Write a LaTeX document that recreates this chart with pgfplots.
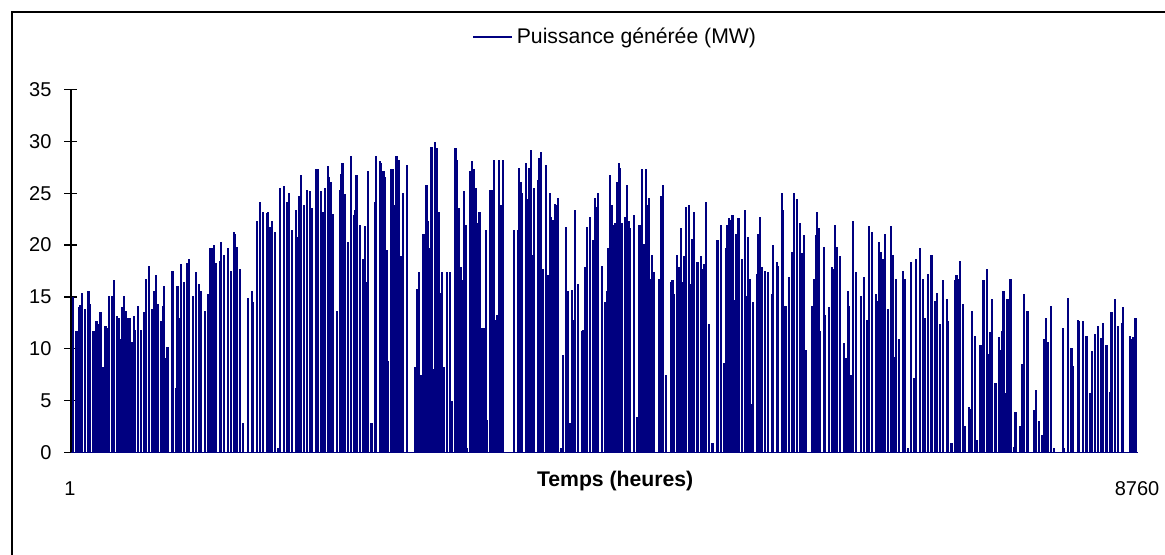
\documentclass[border=0pt]{standalone}
\usepackage{fontspec}
\setmainfont{Liberation Sans}
\usepackage{pgfplots}
\pgfplotsset{compat=1.18}
\usepackage{pgfplotstable}
\definecolor{navy}{RGB}{0,0,128}
\pgfplotstableread{
h v
19 15.0
46 11.7
63 14.0
77 14.2
90 15.4
118 13.8
145 15.6
159 14.3
186 11.7
210 12.7
224 12.4
243 13.5
260 8.2
284 12.2
298 12.0
314 15.1
339 15.1
353 16.6
380 13.2
394 13.0
410 10.9
424 14.0
437 15.1
454 13.6
467 13.0
481 13.0
506 10.7
519 13.2
530 11.8
549 14.1
574 11.8
601 13.5
615 16.7
642 18.0
670 13.8
683 15.6
700 17.1
713 14.3
738 12.7
754 14.1
768 16.1
782 9.1
793 10.2
834 17.5
861 6.2
875 16.1
888 13.0
905 18.2
932 16.4
957 18.3
973 18.7
1000 15.1
1028 17.4
1055 16.2
1066 15.6
1099 13.6
1126 15.3
1142 19.7
1162 19.7
1175 20.0
1194 18.3
1222 18.5
1235 20.3
1260 19.0
1293 19.7
1317 17.5
1336 21.3
1350 21.1
1361 19.8
1391 17.7
1416 2.8
1454 14.9
1484 15.6
1498 14.5
1525 22.3
1555 24.2
1580 23.2
1607 23.1
1621 23.2
1635 21.7
1654 22.3
1678 21.3
1703 0.4
1719 25.5
1747 25.7
1774 24.2
1790 25.0
1818 21.5
1845 23.4
1859 20.8
1872 24.7
1886 26.8
1911 23.9
1941 25.3
1962 25.2
1979 23.6
2012 27.3
2028 27.3
2050 25.2
2066 23.2
2083 25.5
2107 27.6
2118 26.6
2137 26.1
2154 23.0
2181 13.6
2206 25.3
2219 26.9
2230 27.9
2252 24.9
2274 20.3
2301 28.6
2323 22.9
2331 23.4
2345 26.8
2370 21.9
2397 18.7
2411 21.8
2427 16.4
2438 27.1
2468 2.8
2493 24.2
2506 28.6
2534 28.1
2545 27.9
2566 27.1
2580 26.6
2591 19.5
2605 8.8
2632 27.3
2646 27.3
2659 23.9
2673 28.6
2695 28.2
2706 18.9
2730 25.0
2758 27.7
2829 8.2
2843 15.8
2856 17.4
2878 7.5
2895 21.1
2919 25.8
2933 22.3
2947 19.7
2960 29.5
2974 8.1
2988 29.9
3001 29.4
3018 23.2
3034 15.4
3048 17.4
3061 8.2
3089 17.4
3113 17.4
3130 5.0
3157 29.4
3171 28.2
3187 23.6
3201 17.9
3214 16.6
3225 25.2
3239 21.9
3255 0.4
3277 27.1
3294 28.1
3307 27.3
3324 25.5
3337 22.1
3354 23.2
3362 20.3
3378 12.0
3392 12.0
3406 21.5
3419 3.1
3444 25.3
3460 25.3
3474 28.2
3488 12.8
3501 13.3
3515 28.2
3529 23.9
3545 28.2
3641 21.5
3668 21.5
3682 27.4
3695 26.1
3706 25.0
3734 27.9
3747 24.4
3761 27.4
3777 29.2
3791 19.0
3805 25.5
3832 26.3
3846 28.4
3859 29.0
3876 17.7
3903 27.7
3917 17.1
3930 25.0
3944 22.7
3958 22.4
3971 24.0
3985 23.9
3999 24.5
4026 0.4
4040 9.4
4067 21.7
4081 15.6
4097 2.8
4111 15.7
4122 12.8
4138 23.4
4165 16.2
4193 11.7
4206 11.8
4220 17.9
4234 21.7
4261 22.7
4288 20.5
4302 24.5
4316 23.7
4329 25.0
4359 18.0
4381 14.5
4401 15.6
4412 19.7
4425 26.8
4439 23.9
4453 21.9
4466 22.1
4483 26.1
4496 27.9
4510 27.4
4524 22.1
4548 22.7
4565 25.8
4578 22.3
4592 21.6
4619 22.9
4647 3.4
4663 21.9
4677 21.9
4690 27.3
4704 20.1
4718 27.3
4731 23.9
4745 24.5
4761 16.7
4772 19.0
4786 17.4
4830 16.7
4843 24.7
4857 25.8
4884 7.5
4925 16.4
4939 16.6
4953 15.3
4977 19.0
4991 17.9
5007 21.6
5018 16.4
5035 18.9
5048 23.7
5076 23.9
5089 16.2
5103 20.6
5117 23.2
5144 18.4
5171 18.9
5182 17.7
5199 18.2
5212 24.2
5240 12.4
5267 0.9
5308 20.5
5335 21.9
5363 8.6
5376 19.7
5390 21.9
5404 22.6
5417 22.4
5431 22.9
5447 14.7
5458 21.1
5475 22.6
5488 22.6
5508 18.7
5532 23.4
5549 15.1
5562 20.8
5576 16.7
5590 4.7
5603 14.5
5631 17.2
5644 21.1
5658 22.7
5672 17.9
5699 17.5
5726 17.4
5753 15.3
5767 20.0
5794 18.4
5808 18.0
5836 25.0
5849 23.4
5866 14.1
5893 16.9
5918 19.3
5934 25.0
5961 24.4
5986 22.1
6002 19.2
6016 21.0
6032 9.9
6084 14.1
6098 16.7
6114 21.0
6125 23.2
6139 21.6
6153 11.7
6180 19.8
6194 13.3
6221 14.0
6248 17.9
6259 17.7
6276 21.9
6292 19.8
6317 18.9
6344 10.6
6360 9.1
6377 15.6
6390 14.1
6404 7.5
6418 22.3
6442 17.4
6483 15.1
6511 16.9
6538 12.8
6554 21.8
6579 21.3
6606 15.3
6620 14.6
6634 20.3
6647 19.3
6664 18.7
6680 21.1
6705 13.8
6732 21.8
6746 19.0
6759 9.2
6776 16.7
6800 10.9
6830 17.5
6844 16.7
6871 0.4
6899 18.4
6923 7.2
6940 18.7
6967 19.7
6992 16.7
7008 13.0
7035 17.2
7065 19.0
7090 14.6
7107 15.4
7134 12.4
7161 16.6
7189 14.8
7202 12.7
7229 0.9
7257 16.6
7270 17.1
7284 16.7
7301 18.5
7325 14.3
7342 2.6
7369 4.4
7383 4.2
7396 13.6
7424 11.2
7437 1.2
7467 10.4
7492 16.6
7519 17.7
7536 9.5
7549 11.6
7563 14.8
7590 6.7
7618 11.1
7629 9.9
7642 11.7
7656 15.6
7670 5.7
7689 14.8
7713 16.7
7741 0.5
7754 3.9
7795 2.6
7809 8.5
7825 15.3
7853 13.6
7907 4.1
7921 6.0
7948 3.0
7976 1.7
7992 10.9
8006 13.0
8020 10.7
8047 14.1
8074 0.4
8143 12.0
8156 0.4
8184 14.9
8214 10.1
8227 8.3
8265 12.8
8279 12.7
8309 12.7
8337 11.2
8364 5.7
8380 9.8
8405 11.4
8432 12.2
8460 11.0
8473 12.5
8501 10.4
8528 5.8
8542 13.5
8572 14.8
8599 12.2
8626 12.5
8640 14.0
8695 11.2
8709 10.9
8722 11.1
8739 13.0
}\powerdata
\begin{document}
\begin{tikzpicture}
\begin{axis}[
  at={(0pt,0pt)}, anchor=south west,
  scale only axis, width=533.5pt, height=181.5pt,
  xmin=1, xmax=8760, ymin=0, ymax=35,
  axis x line=bottom, axis y line=left,
  axis line style={-, line width=0.7pt, black},
  xtick={1,8760}, xticklabels={1,8760},
  x tick style={draw=none},
  xticklabel style={anchor=center, yshift=-14.75pt, xshift=-0.5pt},
  ytick={0,5,...,35},
  yticklabel style={xshift=-3pt},
  y tick style={line width=0.7pt, black},
  tick align=center, major tick length=6.5pt,
  /pgf/number format/assume math mode=true,
  xlabel={\fontsize{10.6}{12.7}\selectfont\textbf{Temps (heures)}},
  xlabel style={at={(axis description cs:0.51,0)}, anchor=center, yshift=-14.5pt},
  legend style={draw=none, fill=none, at={(axis description cs:0.511,1)}, anchor=center, yshift=26.25pt, font=\fontsize{10.6}{12.7}\selectfont},
  legend cell align=left,
]
\addplot[navy, line width=1.05pt, ycomb, mark=none,
  legend image code/.code={\draw[navy, line width=0.7pt] (0pt,0pt) -- (19.5pt,0pt);}]
  table[x=h, y=v] {\powerdata};
\addlegendentry{Puissance générée (MW)}
\addplot[navy, line width=1pt, forget plot] coordinates {(1,0) (8760,0)};
\end{axis}
\draw[line width=0.8pt] (-29.5pt,-80pt) -- (-29.5pt,220.25pt) -- (600pt,220.25pt);
\pgfresetboundingbox
\useasboundingbox (-35.5pt,-50.75pt) rectangle (547pt,226.25pt);
\end{tikzpicture}
\end{document}
